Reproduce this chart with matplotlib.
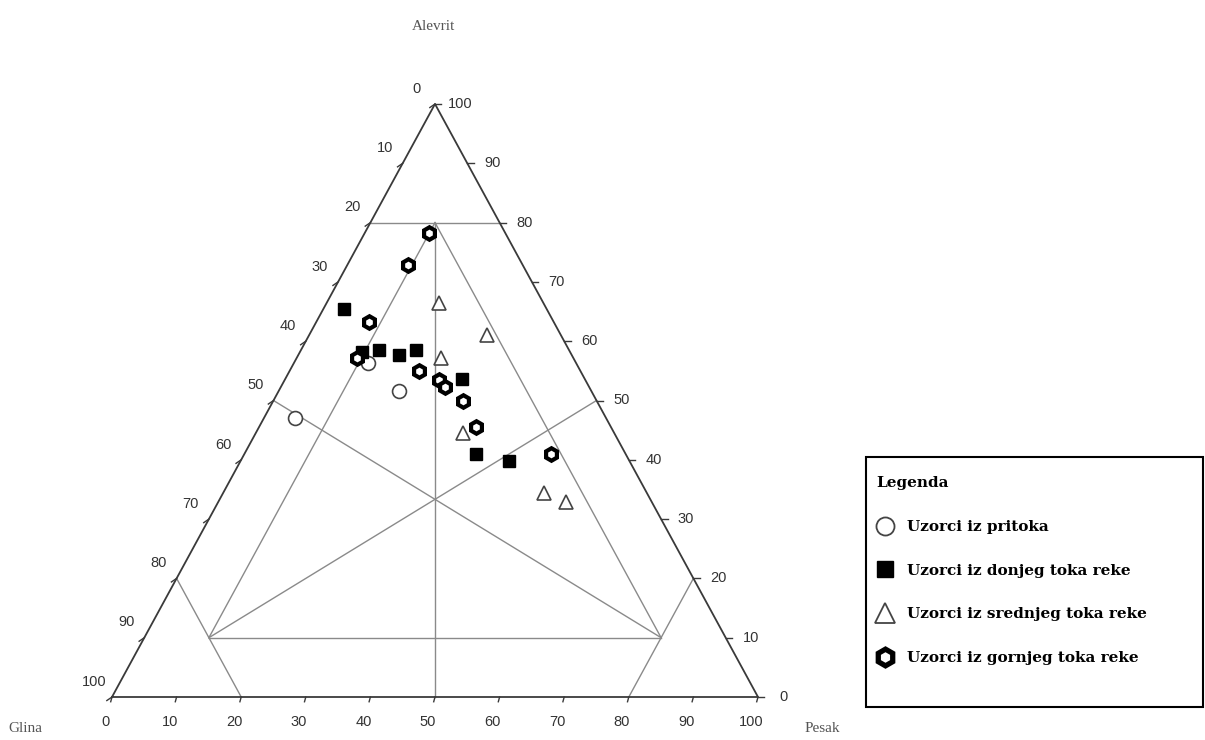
import matplotlib.pyplot as plt
import numpy as np
from matplotlib.lines import Line2D
from matplotlib.patches import Rectangle

# sastav uzoraka u %: pesak (sand) i alevrit (silt), glina = 100 - oba
pritoka_pesak = [4.8, 11.5, 18.6]
pritoka_alevrit = [47.0, 56.3, 51.6]

donji_pesak = [3.2, 9.6, 12.1, 15.6, 17.7, 27.4, 35.9, 41.5]
donji_alevrit = [65.4, 58.2, 58.6, 57.7, 58.6, 53.6, 40.9, 39.8]

srednji_pesak = [17.3, 27.6, 22.4, 32.0, 49.7, 53.9]
srednji_alevrit = [66.5, 61.0, 57.1, 44.6, 34.4, 32.9]

gornji_pesak = [10.0, 9.4, 8.2, 9.4, 20.1, 23.9, 25.4, 29.4, 33.6, 47.5]
gornji_alevrit = [78.2, 72.9, 63.3, 57.2, 55.0, 53.5, 52.2, 49.9, 45.5, 40.9]

# granice klasifikacije, (pesak, alevrit) krajnje tacke
granice = [((0, 80), (20, 80)), ((0, 20), (20, 0)), ((80, 0), (80, 20)),
           ((10, 10), (80, 10)), ((10, 80), (10, 10)), ((10, 80), (80, 10)),
           ((10, 80), (50, 0)), ((10, 10), (50, 50)), ((80, 10), (0, 50))]

ticks = list(range(0, 101, 10))

labels = ["Uzorci iz pritoka", "Uzorci iz donjeg toka reke",
          "Uzorci iz srednjeg toka reke", "Uzorci iz gornjeg toka reke"]


def tern(p, a):
    p = np.asarray(p, dtype=float) / 100
    a = np.asarray(a, dtype=float) / 100
    return p + a / 2, a


W, H = 1205, 740
fig = plt.figure(figsize=(W / 100, H / 100), dpi=100)
ax = fig.add_axes([112 / W, 1 - 697 / H, 646 / W, 593 / H])
ax.set_xlim(0, 1)
ax.set_ylim(0, 1)
ax.axis("off")

tick_font = dict(family="Liberation Sans", fontsize=10.5, color="#333333")

# spoljni trougao
tx, ty = tern([0, 100, 0, 0], [0, 0, 100, 0])
ax.plot(tx, ty, color="#3a3a3a", lw=1.3, clip_on=False, zorder=2)

for (p0, a0), (p1, a1) in granice:
    lx, ly = tern([p0, p1], [a0, a1])
    ax.plot(lx, ly, color="#8a8a8a", lw=1.0, clip_on=False, zorder=1)

# podeoci i oznake
for t in ticks:
    # glina (leva strana)
    x, y = tern(0, 100 - t)
    ax.plot([x, x - 0.008], [y, y - 0.006], color="#3a3a3a", lw=1, clip_on=False)
    ax.annotate(str(t), (x, y), xytext=(-13, 11), textcoords="offset points",
                ha="center", va="center", **tick_font)
    # alevrit (desna strana)
    x, y = tern(100 - t, t)
    ax.plot([x, x + 0.01], [y, y], color="#3a3a3a", lw=1, clip_on=False)
    ax.annotate(str(t), (x, y), xytext=(18, 0), textcoords="offset points",
                ha="center", va="center", **tick_font)
    # pesak (dole)
    x, y = tern(t, 0)
    ax.plot([x, x - 0.002], [y, y - 0.008], color="#3a3a3a", lw=1, clip_on=False)
    ax.annotate(str(t), (x, y), xytext=(-5, -18), textcoords="offset points",
                ha="center", va="center", **tick_font)

# uzorci
x, y = tern(pritoka_pesak, pritoka_alevrit)
ax.plot(x, y, "o", mfc="white", mec="#444444", ms=10, mew=1.2, ls="none", zorder=3)
x, y = tern(donji_pesak, donji_alevrit)
ax.plot(x, y, "s", color="black", ms=9, ls="none", zorder=3)
x, y = tern(srednji_pesak, srednji_alevrit)
ax.plot(x, y, "^", mfc="white", mec="#444444", ms=10, mew=1.2, ls="none", zorder=3)
x, y = tern(gornji_pesak, gornji_alevrit)
ax.plot(x, y, "h", mfc="white", mec="black", ms=9, mew=3.0, ls="none", zorder=3)

title_font = dict(family="Liberation Serif", fontsize=11, color="#555555")
fig.text(433 / W, 1 - 27 / H, "Alevrit", ha="center", va="center", **title_font)
fig.text(25 / W, 1 - 729 / H, "Glina", ha="center", va="center", **title_font)
fig.text(822 / W, 1 - 729 / H, "Pesak", ha="center", va="center", **title_font)

# legenda
fig.patches.append(Rectangle((866 / W, 1 - 707 / H), (1203 - 866) / W, (707 - 457) / H,
                             transform=fig.transFigure, fill=False, ec="black", lw=1.5))
handles = [
    Line2D([], [], marker="o", mfc="white", mec="#444444", ms=13, mew=1.3, ls="none"),
    Line2D([], [], marker="s", color="black", ms=12, ls="none"),
    Line2D([], [], marker="^", mfc="white", mec="#444444", ms=14, mew=1.3, ls="none"),
    Line2D([], [], marker="h", mfc="white", mec="black", ms=12, mew=3.8, ls="none"),
]
font_leg = dict(family="DejaVu Serif", weight="bold", size=11)
leg = fig.legend(handles, labels, loc="upper left", bbox_to_anchor=(870 / W, 1 - 470 / H),
                 frameon=False, title="Legenda", alignment="left",
                 prop=font_leg, title_fontproperties=font_leg,
                 labelspacing=1.95, handletextpad=0.8, handlelength=1.2, borderaxespad=0)

fig.savefig("out.png", dpi=100)
